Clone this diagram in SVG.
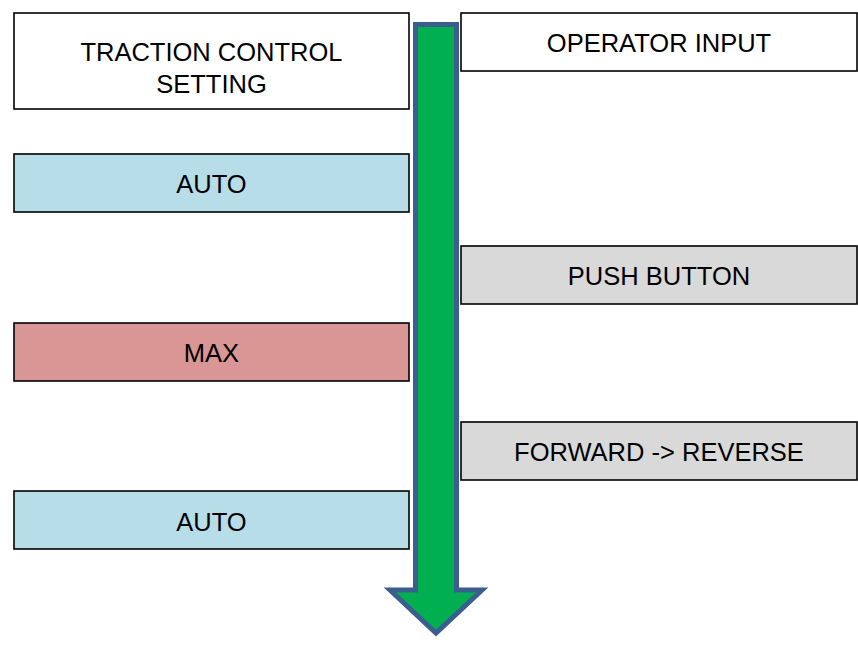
<svg xmlns="http://www.w3.org/2000/svg" width="858" height="645" viewBox="0 0 858 645">
<style>
.box{stroke:#000;stroke-width:1.6}
.w{fill:#fff}
.blue{fill:#B7DEE8}
.red{fill:#D99694}
.gray{fill:#D9D9D9}
.t{font-family:"Liberation Sans",Arial,sans-serif;font-size:25.5px;fill:#000;text-anchor:middle}
</style>
<rect width="858" height="645" fill="#fff"/>
<g id="connectors">
<path d="M415.5,24.5 H456.5 V590 H482 L436,633 L390,590 H415.5 Z" fill="#00B050" stroke="#3A5F8F" stroke-width="5" stroke-linejoin="miter"/>
</g>
<g id="traction-header">
<rect class="box w" x="14" y="13" width="395" height="96"/>
<text class="t" x="211.5" y="61">TRACTION CONTROL</text>
<text class="t" x="211.5" y="93">SETTING</text>
</g>
<g id="operator-header">
<rect class="box w" x="461" y="13" width="396" height="58"/>
<text class="t" x="659" y="52">OPERATOR INPUT</text>
</g>
<g id="auto1">
<rect class="box blue" x="14" y="154" width="395" height="58"/>
<text class="t" x="211.5" y="193">AUTO</text>
</g>
<g id="push-button">
<rect class="box gray" x="461" y="246" width="396" height="58"/>
<text class="t" x="659" y="285">PUSH BUTTON</text>
</g>
<g id="max">
<rect class="box red" x="14" y="323" width="395" height="58"/>
<text class="t" x="211.5" y="362">MAX</text>
</g>
<g id="forward-reverse">
<rect class="box gray" x="461" y="422" width="396" height="58"/>
<text class="t" x="659" y="461">FORWARD -&gt; REVERSE</text>
</g>
<g id="auto2">
<rect class="box blue" x="14" y="491" width="395" height="58"/>
<text class="t" x="211.5" y="531">AUTO</text>
</g>
</svg>
